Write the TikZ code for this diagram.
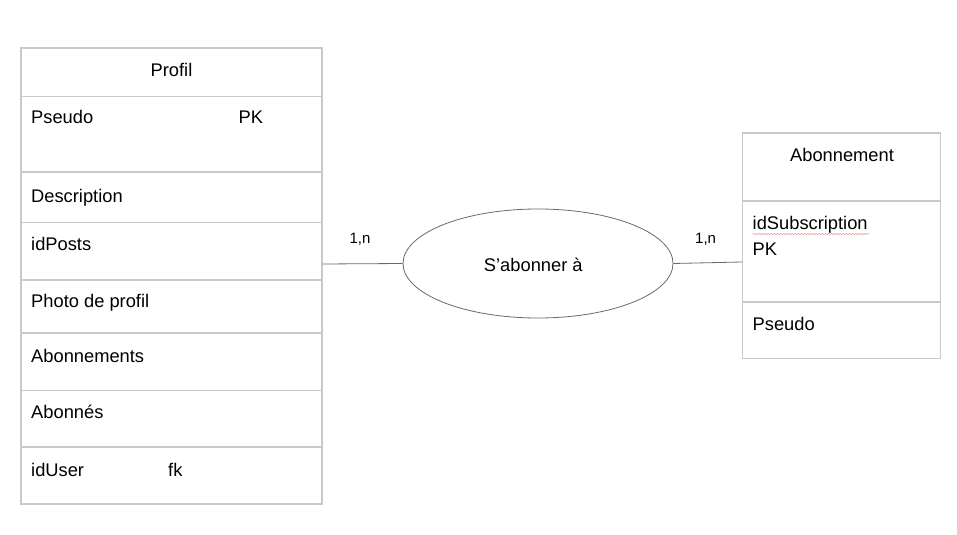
\documentclass[tikz,border=0pt]{standalone}
\usepackage{fontspec}
\setmainfont{Liberation Sans}
\usetikzlibrary{shapes.geometric,decorations.pathmorphing}
\definecolor{tblgray}{HTML}{C9C9C9}
\definecolor{linegray}{HTML}{6A6A6A}
\definecolor{squig}{HTML}{E8A0A0}
\begin{document}
\begin{tikzpicture}[x=1bp,y=-1bp,
  tbl/.style={draw=tblgray, line width=1.2bp, inner sep=0pt, rectangle},
  rowsep/.style={draw=tblgray, line width=1.2bp},
  txt/.style={anchor=base west, inner sep=0pt, font=\fontsize{18.3bp}{22bp}\selectfont},
  ctxt/.style={anchor=base, inner sep=0pt, font=\fontsize{18.3bp}{22bp}\selectfont},
  card/.style={anchor=base west, inner sep=0pt, font=\fontsize{15bp}{18bp}\selectfont},
  assoc/.style={ellipse, draw=linegray, line width=0.8bp, minimum width=270bp, minimum height=109bp, inner sep=0pt},
  conn/.style={draw=linegray, line width=0.8bp}
]
\useasboundingbox[fill=white] (0,0) rectangle (957,535);

% Profil table
\node[tbl, minimum width=301bp, minimum height=456bp] (profil) at (171.5,276) {};
\foreach \yy in {96.7,172,222.7,280,333,390.7,447}
  \draw[rowsep] (profil.west |- 0,\yy) -- (profil.east |- 0,\yy);
\node[ctxt] (ptitle) at (171.5,76.7) {Profil};
\node[txt] (ppseudo) at (31,124) {Pseudo};
\node[txt] (ppk) at (238.5,124) {PK};
\node[txt] (pdesc) at (31,202.5) {Description};
\node[txt] (pposts) at (31,250.5) {idPosts};
\node[txt] (pphoto) at (31,307.3) {Photo de profil};
\node[txt] (pabos) at (31,362.3) {Abonnements};
\node[txt] (pabon) at (31,418.3) {Abonnés};
\node[txt] (puser) at (31,476) {idUser};
\node[txt] (pfk) at (168,476) {fk};

% Abonnement table
\node[tbl, minimum width=198bp, minimum height=225.7bp] (abo) at (841.7,245.9) {};
\foreach \yy in {201,302}
  \draw[rowsep] (abo.west |- 0,\yy) -- (abo.east |- 0,\yy);
\node[ctxt] (atitle) at (842,161.7) {Abonnement};
\node[txt] (asub) at (752.5,230) {idSubscription};
\node[txt] (apk) at (752.5,256) {PK};
\node[txt] (apseudo) at (752.5,330.7) {Pseudo};
\draw[squig, line width=0.5bp, decoration={snake, amplitude=0.7bp, segment length=3bp}, decorate]
  (asub.base west) ++(0,4) -- ++(117,0);

% Association
\node[assoc] (rel) at (538,263.5) {};
\node[ctxt] (reltxt) at (533.3,271.7) {S’abonner à};

% Connectors
\draw[conn] (profil.east |- 0,264) -- (rel.west);
\draw[conn] (rel.east) -- (abo.west |- 0,262);

% Cardinalities
\node[card] (c1) at (349.3,243.3) {1,n};
\node[card] (c2) at (695,243.3) {1,n};
\end{tikzpicture}
\end{document}
